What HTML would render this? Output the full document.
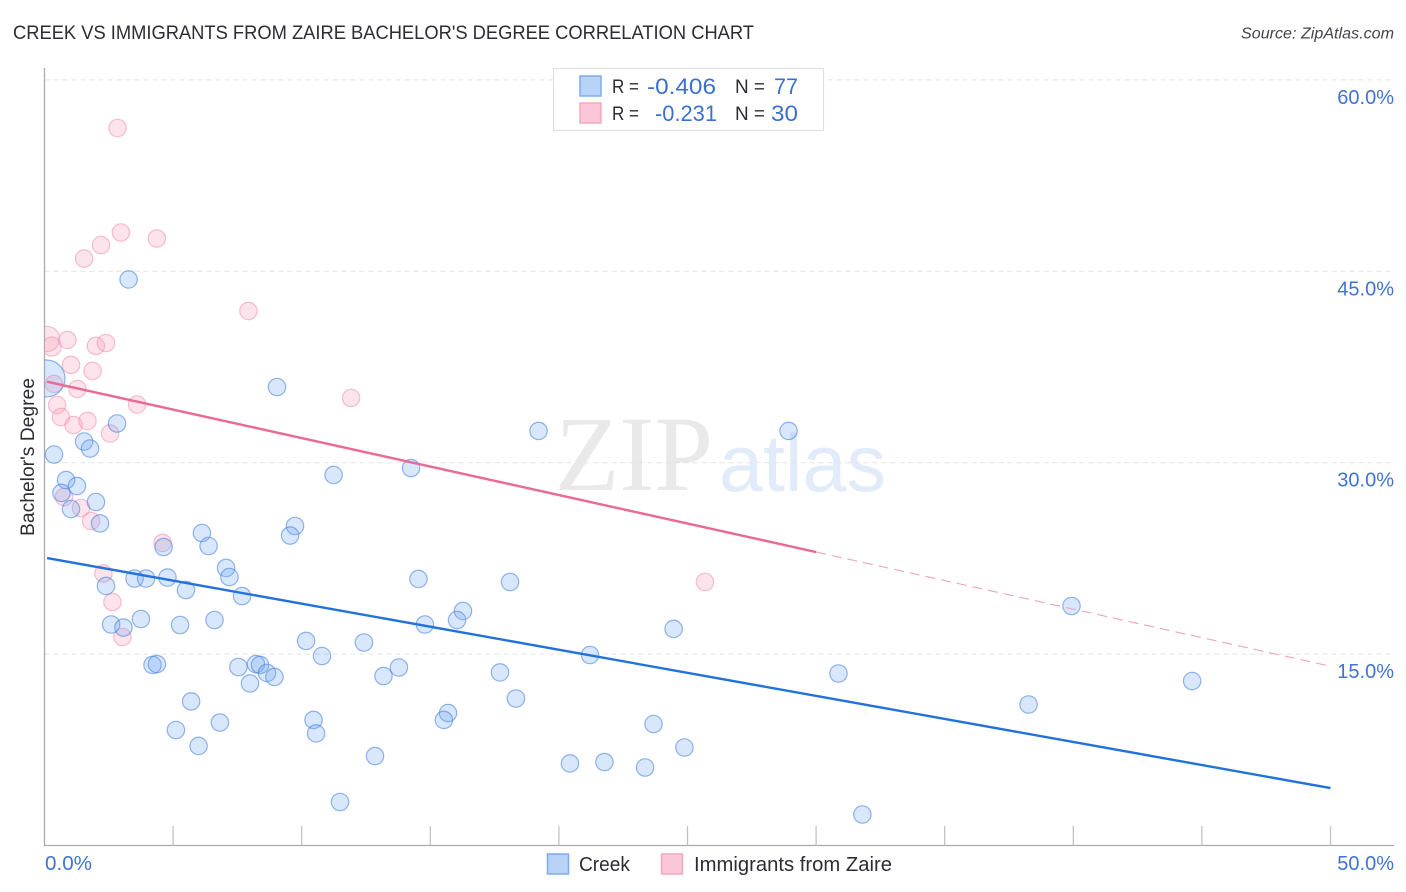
<!DOCTYPE html>
<html lang="en">
<head>
<meta charset="utf-8">
<title>Creek vs Immigrants from Zaire Bachelor's Degree Correlation Chart</title>
<style>
html,body{margin:0;padding:0;background:#fff;width:1406px;height:892px;overflow:hidden}
svg{display:block;font-family:"Liberation Sans",sans-serif}
</style>
</head>
<body>
<svg id="chart" width="1406" height="892" viewBox="0 0 1406 892" xmlns="http://www.w3.org/2000/svg">
  <defs>
    <clipPath id="plot-clip"><rect x="44.500" y="60" width="1350" height="786"/></clipPath>
  </defs>
  <rect x="0" y="0" width="1406" height="892" fill="#ffffff"/>
  <text x="13" y="39" font-size="19.5" fill="#2c2c34" textLength="741" lengthAdjust="spacingAndGlyphs">CREEK VS IMMIGRANTS FROM ZAIRE BACHELOR'S DEGREE CORRELATION CHART</text>
  <text x="1394" y="38.500" font-size="15.500" font-style="italic" fill="#44444c" text-anchor="end" textLength="153" lengthAdjust="spacingAndGlyphs">Source: ZipAtlas.com</text>
  <g id="watermark">
    <text x="555" y="490" font-family="'Liberation Serif',serif" font-size="107" fill="#e9e9e9" textLength="158" lengthAdjust="spacingAndGlyphs">ZIP</text>
    <text x="719" y="491" font-size="81" fill="#e2ebfa" textLength="167" lengthAdjust="spacingAndGlyphs">atlas</text>
  </g>
  <g id="grid"></g>
  <g id="axes"></g>
  <g id="pink-points" clip-path="url(#plot-clip)"></g>
  <g id="blue-points" clip-path="url(#plot-clip)"></g>
  <g id="trends"></g>
  <g id="labels"></g>

  <g>
    <rect x="553.500" y="68.500" width="270" height="62" fill="#ffffff" stroke="#e0e0e0" stroke-width="1.200"/>
    <rect x="580" y="76" width="21" height="20" fill="#b9d3f6" stroke="#7fabea" stroke-width="1.500"/>
    <rect x="580" y="103" width="21" height="20" fill="#fbc7d8" stroke="#f3a9c1" stroke-width="1.500"/>
    <text x="612" y="93" font-size="19" fill="#2c2c34" textLength="27" lengthAdjust="spacingAndGlyphs">R =</text>
    <text x="647" y="94" font-size="22" fill="#3a70cf" textLength="69" lengthAdjust="spacingAndGlyphs">-0.406</text>
    <text x="735" y="93" font-size="19" fill="#2c2c34" textLength="30" lengthAdjust="spacingAndGlyphs">N =</text>
    <text x="774" y="94" font-size="22" fill="#3a70cf" textLength="24" lengthAdjust="spacingAndGlyphs">77</text>
    <text x="612" y="120" font-size="19" fill="#2c2c34" textLength="27" lengthAdjust="spacingAndGlyphs">R =</text>
    <text x="655" y="121" font-size="22" fill="#3a70cf" textLength="62" lengthAdjust="spacingAndGlyphs">-0.231</text>
    <text x="735" y="120" font-size="19" fill="#2c2c34" textLength="30" lengthAdjust="spacingAndGlyphs">N =</text>
    <text x="771" y="121" font-size="22" fill="#3a70cf" textLength="27" lengthAdjust="spacingAndGlyphs">30</text>
  </g>

  <g>
    <rect x="547.500" y="854" width="21" height="20" fill="#b9d3f6" stroke="#7fabea" stroke-width="1.500"/>
    <text x="579" y="871" font-size="20" fill="#2c2c34" textLength="51" lengthAdjust="spacingAndGlyphs">Creek</text>
    <rect x="661.500" y="854" width="21" height="20" fill="#fbc7d8" stroke="#f3a9c1" stroke-width="1.500"/>
    <text x="694" y="871" font-size="20" fill="#2c2c34" textLength="198" lengthAdjust="spacingAndGlyphs">Immigrants from Zaire</text>
  </g>

  <text transform="translate(34 457) rotate(-90)" font-size="19" fill="#2c2c34" text-anchor="middle" textLength="158" lengthAdjust="spacingAndGlyphs">Bachelor's Degree</text>
</svg>
<script>
const creekX = [3.27,9.04,2.82,1.54,1.77,0.37,0.84,1.26,0.66,2.00,1.03,2.16,6.12,9.74,9.55,6.38,4.63,11.24,14.25,19.21,28.93,7.06,7.19,3.50,3.95,4.78,5.50,2.39,7.68,14.54,18.10,3.75,2.59,3.07,5.27,6.61,16.27,16.04,14.79,24.46,39.93,10.17,12.42,10.79,21.21,4.20,4.37,7.54,8.22,8.38,8.65,8.94,7.99,13.18,13.78,17.71,30.87,44.62,5.70,18.33,38.26,6.82,10.46,10.56,15.69,15.53,23.68,5.11,5.99,24.88,12.85,20.43,21.77,23.35,11.49,31.80,0.08];
const creekY = [44.36,35.93,33.07,31.66,31.11,30.64,28.64,28.17,27.63,26.92,26.37,25.24,24.49,25.04,24.29,23.47,23.39,29.04,29.58,32.49,32.49,21.75,21.04,20.92,20.92,21.00,20.02,20.34,19.55,20.89,20.65,17.75,17.32,17.08,17.28,17.67,18.38,17.67,17.32,16.97,18.77,16.03,15.91,14.85,14.93,14.15,14.22,13.99,14.22,14.15,13.52,13.21,12.70,13.28,13.95,13.56,13.48,12.89,11.29,11.52,11.05,9.64,9.84,8.78,10.38,9.84,9.52,9.05,7.80,7.68,7.01,6.43,6.54,6.11,3.41,2.43,36.60];
const creekWeight = [1,1,1,1,1,1,1,1,1,1,1,1,1,1,1,1,1,1,1,1,1,1,1,1,1,1,1,1,1,1,1,1,1,1,1,1,1,1,1,1,1,1,1,1,1,1,1,1,1,1,1,1,1,1,1,1,1,1,1,1,1,1,1,1,1,1,1,1,1,1,1,1,1,1,1,1,4.5];
const zaireX = [2.84,2.97,4.37,2.20,1.54,7.93,0.10,0.28,0.89,2.00,2.39,1.03,1.87,0.37,1.28,3.60,0.49,11.92,0.64,1.13,1.67,2.55,0.76,1.42,1.81,4.59,2.29,2.64,3.03,25.68];
const zaireY = [56.23,48.04,47.57,47.06,46.00,41.89,39.70,39.10,39.62,39.15,39.38,37.66,37.19,36.17,35.78,34.56,34.52,35.07,33.58,32.95,33.27,32.29,27.31,26.45,25.43,23.71,21.32,19.08,16.34,20.65];
const zaireWeight = [1,1,1,1,1,1,2.1,1.2,1,1,1,1,1,1,1,1,1,1,1,1,1,1,1,1,1,1,1,1,1,1];
const creekTrendX = [0.1,50];
const creekTrendY = [22.53,4.5];
const zaireTrendSolidX = [0.1,30];
const zaireTrendSolidY = [36.35,23.0];
const zaireTrendDashX = [30,50];
const zaireTrendDashY = [23.0,14.05];
const yTicks = [15,30,45,60];
const yTickLabels = ["15.0%","30.0%","45.0%","60.0%"];
const xTicks = [0,5,10,15,20,25,30,35,40,45,50];
const xTickLabels = ["0.0%","50.0%"];

const NS = "http://www.w3.org/2000/svg";
function sx(v){ return 44.5 + v * 25.72; }
function sy(v){ return 845.5 - v * 12.76; }
function mk(tag, parent, attrs){
  const el = document.createElementNS(NS, tag);
  for (const k in attrs) el.setAttribute(k, attrs[k]);
  document.getElementById(parent).appendChild(el);
  return el;
}

yTicks.forEach(function(t, i){
  const g = mk("line", "grid", {x1:44.5, x2:1394, y1:sy(t), y2:sy(t), stroke:"#e4e4e4", "stroke-width":1, "stroke-dasharray":"5 4"});
  
  
  const l = mk("text", "labels", {x:1394, y:sy(t)+24, "font-size":20, fill:"#3f74d2", "text-anchor":"end"});
  l.textContent = yTickLabels[i];
  
  
});

const yAxis = mk("line", "axes", {x1:44.5, x2:44.5, y1:68, y2:846, stroke:"#ababab", "stroke-width":1.3});


const xAxis = mk("line", "axes", {x1:44, x2:1394, y1:845.5, y2:845.5, stroke:"#ababab", "stroke-width":1.3});



xTicks.forEach(function(t){
  if (t === 0) return;
  const k = mk("line", "axes", {x1:sx(t), x2:sx(t), y1:826, y2:845.5, stroke:"#c2c2c2", "stroke-width":1.3});
  
  
});

const xLabelStart = mk("text", "labels", {x:sx(xTicks[0])+0.5, y:870, "font-size":20, fill:"#3f74d2", textLength:47, lengthAdjust:"spacingAndGlyphs"});
xLabelStart.textContent = xTickLabels[0];


const xLabelEnd = mk("text", "labels", {x:1394, y:870, "font-size":20, fill:"#3f74d2", "text-anchor":"end"});
xLabelEnd.textContent = xTickLabels[1];



zaireX.forEach(function(v, i){
  const c = mk("circle", "pink-points", {cx:sx(v), cy:sy(zaireY[i]), r:8.7*Math.sqrt(zaireWeight[i]), fill:"rgba(248,170,195,0.33)", stroke:"rgba(240,150,180,0.6)", "stroke-width":1.2});
  
  
});
creekX.forEach(function(v, i){
  const c = mk("circle", "blue-points", {cx:sx(v), cy:sy(creekY[i]), r:8.7*Math.sqrt(creekWeight[i]), fill:"rgba(110,165,240,0.27)", stroke:"rgba(70,130,220,0.58)", "stroke-width":1.2});
  
  
});

const creekTrend = mk("line", "trends", {x1:sx(creekTrendX[0]), y1:sy(creekTrendY[0]), x2:sx(creekTrendX[1]), y2:sy(creekTrendY[1]), stroke:"#2272dc", "stroke-width":2.4});


const zaireSolid = mk("line", "trends", {x1:sx(zaireTrendSolidX[0]), y1:sy(zaireTrendSolidY[0]), x2:sx(zaireTrendSolidX[1]), y2:sy(zaireTrendSolidY[1]), stroke:"#e96a97", "stroke-width":2.4});


const zaireDash = mk("line", "trends", {x1:sx(zaireTrendDashX[0]), y1:sy(zaireTrendDashY[0]), x2:sx(zaireTrendDashX[1]), y2:sy(zaireTrendDashY[1]), stroke:"#eda3bc", "stroke-width":1.1, "stroke-dasharray":"10 6"});


</script>
</body>
</html>
